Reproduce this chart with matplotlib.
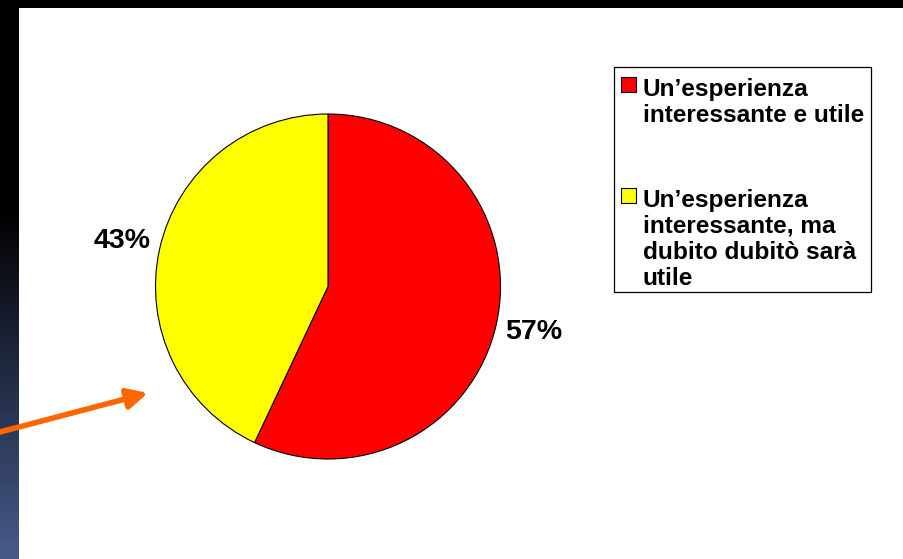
import numpy as np
import matplotlib
matplotlib.use("Agg")
import matplotlib.pyplot as plt
from matplotlib.patches import Rectangle

plt.rcParams['font.family'] = ['Liberation Sans', 'DejaVu Sans']

# --- data ---
labels = ["Un\u2019esperienza\ninteressante e utile",
          "Un\u2019esperienza\ninteressante, ma\ndubito dubit\u00f2 sar\u00e0\nutile"]
values = [57, 43]
colors = ["#FF0000", "#FFFF00"]

W, H = 904, 559
fig = plt.figure(figsize=(W / 100, H / 100), dpi=100)
fig.patch.set_facecolor("black")

# full-figure overlay in pixel coordinates
ov = fig.add_axes([0, 0, 1, 1], zorder=0)
ov.set_xlim(0, W)
ov.set_ylim(H, 0)
ov.axis("off")

# slide background: white area, dark left band with a blue gradient
ov.add_patch(Rectangle((19, 8), W - 19, H - 8, facecolor="white", edgecolor="none", zorder=1))
ys = np.linspace(0, H, 400)
t = np.clip((ys - 205) / (H - 205), 0, 1)
top_c = np.array([0, 0, 0])
bot_c = np.array([70, 90, 138]) / 255
grad = (top_c[None, :] * (1 - t[:, None]) + bot_c[None, :] * t[:, None])[:, None, :]
ov.imshow(grad, extent=(0, 19, H, 8), aspect="auto", zorder=1, interpolation="bilinear")

# orange pointer arrow
ov.annotate("", xy=(148, 393), xytext=(0, 432),
            arrowprops=dict(arrowstyle="-|>,head_length=1.2,head_width=0.6",
                            color="#FF6600", lw=4, mutation_scale=10,
                            shrinkA=0, shrinkB=0), zorder=3)

# legend drawn by hand: frame, square swatches, wrapped labels
ov.add_patch(Rectangle((614, 67), 871 - 614, 292 - 67, facecolor="white",
                       edgecolor="black", lw=0.9, zorder=2))
line_step = 26
entry_gap = 59
baseline = 96
for lab, col in zip(labels, colors):
    ov.add_patch(Rectangle((621, baseline - 19.5), 15, 15, facecolor=col,
                           edgecolor="black", lw=0.8, zorder=3))
    for line in lab.split("\n"):
        ov.text(643, baseline, line, fontsize=17.6, fontweight="bold",
                ha="left", va="baseline", color="black", zorder=4)
        baseline += line_step
    baseline += entry_gap

# pie chart
cx, cy, r = 328, 286.5, 172.5
ax = fig.add_axes([(cx - r) / W, (H - cy - r) / H, 2 * r / W, 2 * r / H], zorder=1)
wedges, texts, autotexts = ax.pie(
    values, colors=colors, startangle=90, counterclock=False,
    autopct="%.0f%%", pctdistance=1.22,
    wedgeprops=dict(edgecolor="black", linewidth=0.8),
    textprops=dict(fontsize=20.5, fontweight="bold", color="black"))
ax.set_xlim(-1, 1)
ax.set_ylim(-1, 1)
ax.axis("off")

fig.savefig("out.png", dpi=100, facecolor=fig.get_facecolor())
